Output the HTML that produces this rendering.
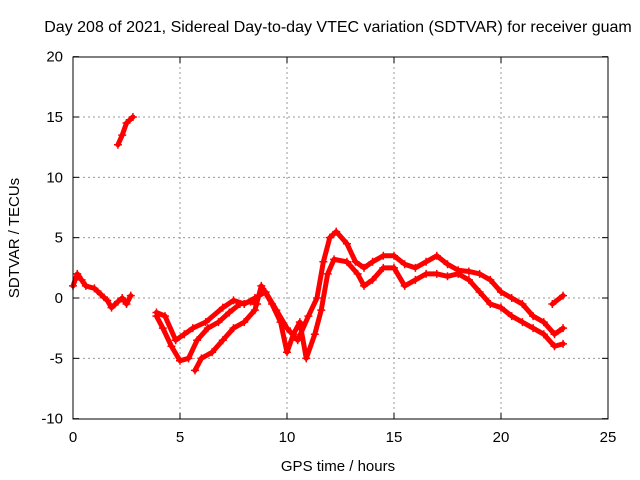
<!DOCTYPE html>
<html><head><meta charset="utf-8"><style>
body{margin:0;background:#fff;}
svg{display:block;font-family:"Liberation Sans",sans-serif;}
</style></head><body>
<svg id="chart" width="640" height="480">
<text x="338" y="32" font-size="16" text-anchor="middle">Day 208 of 2021, Sidereal Day-to-day VTEC variation (SDTVAR) for receiver guam</text>
<text x="338" y="471" font-size="15" text-anchor="middle">GPS time / hours</text>
<text transform="translate(19,238) rotate(-90)" font-size="15" text-anchor="middle">SDTVAR / TECUs</text>
<g id="grid"></g><g id="axes"></g><g id="marks"></g>
<rect x="73" y="57" width="535" height="362" fill="none" stroke="#000"/>
</svg>
<script>
const xTicks=[0,5,10,15,20,25];
const yTicks=[-10,-5,0,5,10,15,20];
const trackA_t=[0,0.2,0.4,0.6,1,1.3,1.6,1.8,2.1,2.3,2.5,2.7];
const trackA_v=[1,2,1.5,1,0.8,0.3,-0.2,-0.8,-0.3,0,-0.5,0.2];
const trackB_t=[2.1,2.3,2.5,2.8];
const trackB_v=[12.7,13.5,14.5,15];
const trackC_t=[3.9,4.2,4.6,5,5.4,5.8,6.3,6.8,7.3,7.8,8.3,8.6];
const trackC_v=[-1.5,-2.5,-4,-5.2,-5,-3.5,-2.5,-2,-1.2,-0.5,-0.3,-0.5];
const trackD_t=[3.9,4.3,4.8,5.2,5.6,6.2,7,7.5,8,8.5,9,9.5,10,10.5,11,11.4,11.7,12,12.3,12.8,13.2,13.6,14,14.5,15,15.5,16,16.5,17,17.5,18,18.5,19,19.5,20,20.5,21,21.5,22,22.5,22.9];
const trackD_v=[-1.2,-1.5,-3.5,-3,-2.5,-2,-0.8,-0.2,-0.5,0,0.5,-1,-2.5,-3.5,-1.5,0,3,5,5.5,4.5,3,2.5,3,3.5,3.5,2.8,2.5,3,3.5,2.8,2.3,2.2,2,1.5,0.5,0,-0.5,-1.5,-2,-3,-2.5];
const trackE_t=[5.7,6,6.5,7,7.5,8,8.5,8.8,9.3,9.7,10,10.3,10.6,10.9,11.3,11.6,11.9,12.2,12.8,13.3,13.6,14,14.5,15,15.5,16,16.5,17,17.5,18,18.5,19,19.5,20,20.5,21,21.5,22,22.5,22.9];
const trackE_v=[-6,-5,-4.5,-3.5,-2.5,-2,-1,1,-0.5,-2,-4.5,-3,-2,-5,-3,-1,2,3.2,3,2,1,1.5,2.5,2.5,1,1.5,2,2,1.8,2,1.5,0.5,-0.5,-0.8,-1.5,-2,-2.5,-3,-4,-3.8];
const trackF_t=[22.4,22.9];
const trackF_v=[-0.5,0.2];
const NS="http://www.w3.org/2000/svg";
const X=t=>73+t*(535/25);
const Y=v=>298-v*(362/30);
function mk(tag,attrs,parent){const e=document.createElementNS(NS,tag);for(const k in attrs)e.setAttribute(k,attrs[k]);parent.appendChild(e);return e;}
const grid=document.getElementById('grid'),axes=document.getElementById('axes'),marks=document.getElementById('marks');
xTicks.forEach(t=>{
 if(t>0&&t<25){const g=mk('line',{x1:X(t),x2:X(t),y1:57,y2:419,stroke:'#999','stroke-dasharray':'2,3'},grid);
 
 }
 const l=mk('text',{x:X(t),y:442,'font-size':15,'text-anchor':'middle'},axes);l.textContent=t;
 
 
 mk('line',{x1:X(t),x2:X(t),y1:419,y2:413,stroke:'#000'},axes);
 mk('line',{x1:X(t),x2:X(t),y1:57,y2:63,stroke:'#000'},axes);
});
yTicks.forEach(v=>{
 if(v>-10&&v<20){const g=mk('line',{x1:73,x2:608,y1:Y(v),y2:Y(v),stroke:'#999','stroke-dasharray':'2,3'},grid);
 
 }
 const l=mk('text',{x:63,y:Y(v)+5,'font-size':15,'text-anchor':'end'},axes);l.textContent=v;
 
 
 mk('line',{x1:73,x2:79,y1:Y(v),y2:Y(v),stroke:'#000'},axes);
 mk('line',{x1:602,x2:608,y1:Y(v),y2:Y(v),stroke:'#000'},axes);
});
[[trackA_t,trackA_v],[trackB_t,trackB_v],[trackC_t,trackC_v],[trackD_t,trackD_v],[trackE_t,trackE_v],[trackF_t,trackF_v]].forEach((tr,i)=>{
 const pts=tr[0].map((t,j)=>X(t)+','+Y(tr[1][j])).join(' ');
 const p=mk('polyline',{points:pts,fill:'none',stroke:'#f00','stroke-width':5,'stroke-linejoin':'round','stroke-linecap':'round'},marks);
 
 
 tr[0].forEach((t,j)=>{
  const c=mk('path',{d:`M${X(t)-4},${Y(tr[1][j])}h8M${X(t)},${Y(tr[1][j])-4}v8`,stroke:'#f00','stroke-width':1.5},marks);
  
  
 });
});
</script>
</body></html>
